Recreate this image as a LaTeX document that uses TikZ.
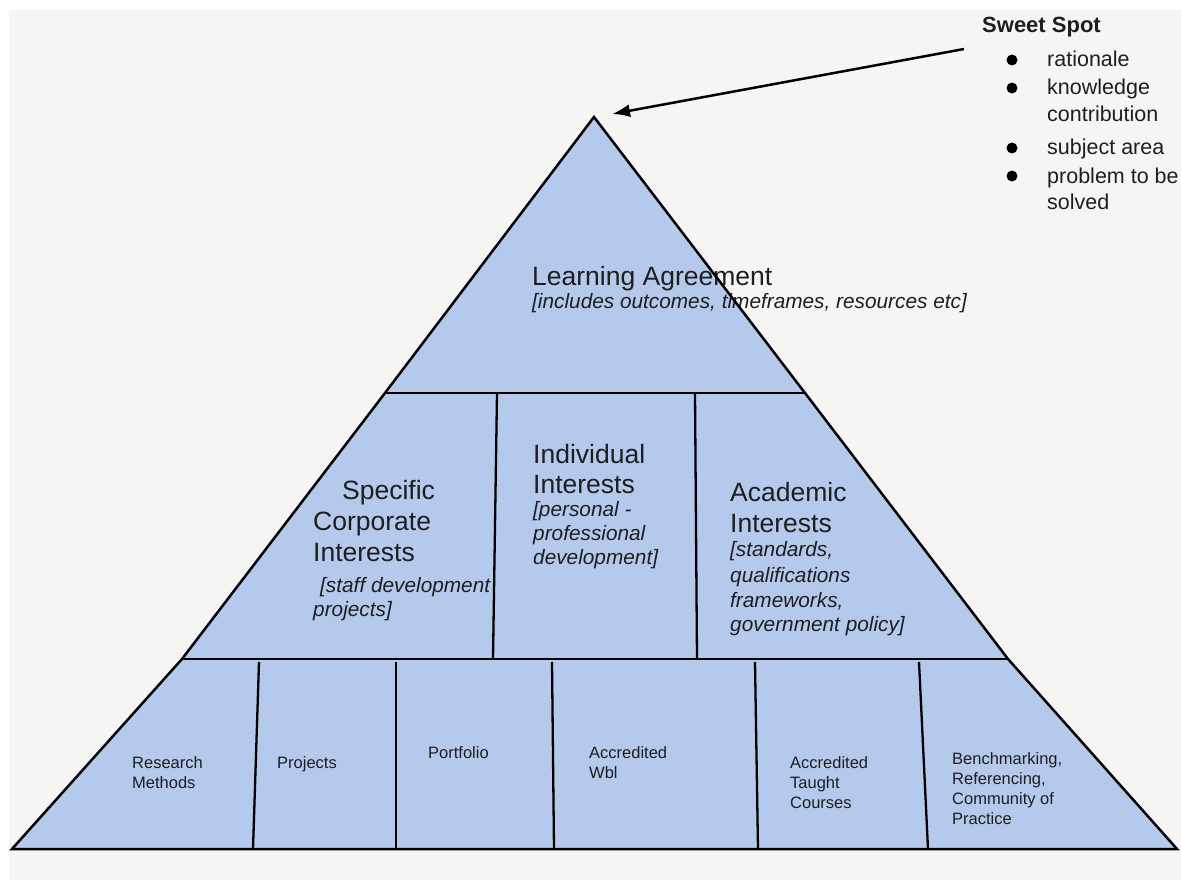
\documentclass[tikz,border=0pt]{standalone}
\usepackage{fontspec}
\setmainfont{Liberation Sans}
\usetikzlibrary{arrows.meta}
\definecolor{bgc}{RGB}{246,245,243}
\definecolor{fillb}{RGB}{181,201,236}
\definecolor{txt}{RGB}{30,30,30}
\begin{document}
\begin{tikzpicture}[x=1pt,y=-1pt,
  band/.style={fill=fillb, draw=none},
  edge/.style={draw=black, line width=2.5pt, line join=miter},
  sepline/.style={draw=black, line width=2.3pt},
  lbl/.style={anchor=base west, inner sep=0pt, text=txt},
  big/.style={lbl, font=\fontsize{26.5}{31}\selectfont},
  ital/.style={lbl, font=\fontsize{20.8}{24}\selectfont\itshape},
  small/.style={lbl, font=\fontsize{16.5}{19}\selectfont},
  head/.style={lbl, font=\fontsize{22}{26}\selectfont\bfseries},
  item/.style={lbl, font=\fontsize{21.5}{26}\selectfont},
  dot/.style={circle, fill=black, inner sep=0pt, minimum size=11pt}]
\useasboundingbox (0,0) rectangle (1181,880);
\fill[white] (0,0) rectangle (1181,880);
\fill[bgc] (9,10) rectangle (1181,880);

% key points
\coordinate (A) at (594,117);
\coordinate (TL) at (385,393);
\coordinate (TR) at (805,393);
\coordinate (ML) at (182,659);
\coordinate (MR) at (1008,659);
\coordinate (BL) at (12,849);
\coordinate (BR) at (1177,849);

% fills
\path[band] (A) -- (TR) -- (MR) -- (BR) -- (BL) -- (ML) -- (TL) -- cycle;

% texts: top
\node[big] (la) at (532,285) {Learning Agreement};
\node[ital] (lai) at (532,308) {[includes outcomes, timeframes, resources etc]};

% middle left
\node[big] (sc1) at (342,499) {Specific};
\node[big] (sc2) at (313,530) {Corporate};
\node[big] (sc3) at (313,561) {Interests};
\node[ital] (sc4) at (320,592) {[staff development};
\node[ital] (sc5) at (313,616) {projects]};

% middle centre
\node[big] (ii1) at (533,463) {Individual};
\node[big] (ii2) at (533,493) {Interests};
\node[ital] (ii3) at (533,516) {[personal -};
\node[ital] (ii4) at (533,540) {professional};
\node[ital] (ii5) at (533,564) {development]};

% middle right
\node[big] (ai1) at (730,501) {Academic};
\node[big] (ai2) at (730,532) {Interests};
\node[ital] (ai3) at (730,556) {[standards,};
\node[ital] (ai4) at (730,582) {qualifications};
\node[ital] (ai5) at (730,607) {frameworks,};
\node[ital] (ai6) at (730,631) {government policy]};

% bottom row
\node[small] (r1) at (132,768) {Research};
\node[small] (r2) at (132,788) {Methods};
\node[small] (p1) at (277,768) {Projects};
\node[small] (pf) at (428,758) {Portfolio};
\node[small] (w1) at (589,758) {Accredited};
\node[small] (w2) at (589,778) {Wbl};
\node[small] (t1) at (790,768) {Accredited};
\node[small] (t2) at (790,788) {Taught};
\node[small] (t3) at (790,808) {Courses};
\node[small] (b1) at (952,764) {Benchmarking,};
\node[small] (b2) at (952,784) {Referencing,};
\node[small] (b3) at (952,804) {Community of};
\node[small] (b4) at (952,824) {Practice};

% outlines
\draw[edge] (A) -- (TR) -- (MR) -- (BR) -- (BL) -- (ML) -- (TL) -- cycle;
\draw[sepline] (TL) -- (TR);
\draw[sepline] (ML) -- (MR);
\draw[sepline] (497,393) -- (493,659);
\draw[sepline] (695,393) -- (697,659);
\draw[sepline] (259,662) -- (253,849);
\draw[sepline] (396,662) -- (396,849);
\draw[sepline] (552,662) -- (554,849);
\draw[sepline] (755,662) -- (758,849);
\draw[sepline] (919,662) -- (928,849);

% sweet spot
\node[head] (ss) at (982,33) {Sweet Spot};
\node[dot] (d1) at (1012,60) {};
\node[item] (i1) at (1047,67) {rationale};
\node[dot] (d2) at (1012,88) {};
\node[item] (i2) at (1047,95) {knowledge};
\node[item] (i3) at (1047,122) {contribution};
\node[dot] (d3) at (1012,148) {};
\node[item] (i4) at (1047,155) {subject area};
\node[dot] (d4) at (1012,176) {};
\node[item] (i5) at (1047,183) {problem to be};
\node[item] (i6) at (1047,209) {solved};

\coordinate (tail) at (964,49);
\coordinate (tip) at (612,114);
\draw[line width=2.5pt, -{Latex[length=18pt,width=13pt]}] (tail) -- (tip);
\end{tikzpicture}
\end{document}
